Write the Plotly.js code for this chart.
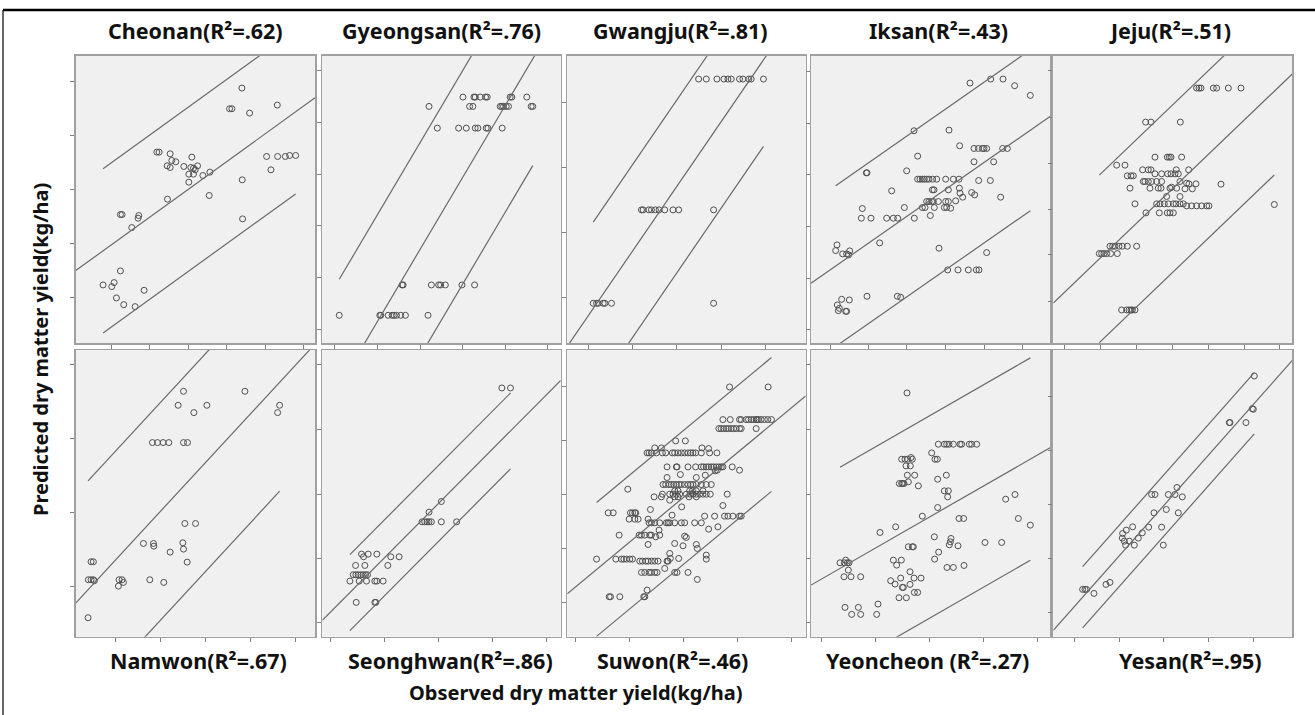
<!DOCTYPE html>
<html><head><meta charset="utf-8">
<script src="https://cdn.plot.ly/plotly-3.0.1.min.js"></script>
<style>html,body{margin:0;padding:0;background:#fff;}#chart{width:1315px;height:715px;}</style>
</head><body><div id="chart"></div>
<script>
// ---- site titles ----
const sites = ["Cheonan", "Gyeongsan", "Gwangju", "Iksan", "Jeju", "Namwon", "Seonghwan", "Suwon", "Yeoncheon ", "Yesan"];
const r2Labels = [".62", ".76", ".81", ".43", ".51", ".67", ".86", ".46", ".27", ".95"];

// ---- observed (x) / predicted (y) values, arbitrary yield units ----
const cheonanObs = [498,461,468,521,604,243,250,283,288,300,348,274,283,324,345,353,358,365,339,353,381,402,339,275,400,499,500,572,605,628,641,659,585,134,139,189,187,168,134,82,108,115,122,144,178,205];
const cheonanPred = [764,702,702,689,713,572,572,567,547,543,557,531,526,529,526,524,519,531,506,506,502,512,482,431,442,489,372,559,559,559,562,562,519,385,385,382,374,346,216,174,169,181,135,115,109,158];

const gyeongsanObs = [423,456,460,475,491,496,565,570,615, 321,443,453,535,540,545,553,560,628,633, 346,410,433,460,468,493,498,541, 240,243,328,350,356,370,420,458, 51,173,176,198,210,216,223,236,250,318];
const gyeongsanPred = [737,737,737,737,737,737,737,737,737, 709,709,709,709,709,709,709,709,709,709, 644,644,644,644,644,644,644,644, 174,174,174,174,174,174,174,174, 83,83,83,83,83,83,83,83,83,83];

const gwangjuObs = [395,418,450,471,483,493,518,528,546,553,590, 223,228,245,253,265,276,293,318,335,440, 78,88,93,108,113,133,440];
const gwangjuPred = [791,791,791,791,791,791,791,791,791,791,791, 399,399,399,399,399,399,399,399,399,399, 119,119,119,119,119,119,119];

const iksanObs = [477,539,576,611,658, 309,414, 446,489,502,514,519,527,575,589, 320, 489,548, 166,168, 287,
  320,327,334,340,347,354,365,377,404,427,444, 503,538,
  242,364,369,412,445,447,482,491,569,455,
  347,354,362,367,382,404,412,434,
  154,280,334,342,370,400,407,419,
  151,180,227,247,260,310,358,
  78,74,95,107,113,116, 206, 384,527, 410,441,472,496,504,
  92,115,168,259,269, 79,85,82,104,107];
const iksanPred = [779,791,791,771,742, 636,638, 591,583,583,583,583,583,583,583, 560, 543,543, 510,510, 516,
  491,491,491,491,491,491,491,491,491,491,491, 487,487,
  456,459,459,459,464,449,451,444,437,437,
  424,424,424,424,424,424,424,426,
  403,406,406,406,406,406,406,404,
  374,374,374,374,374,374,382,
  294,277,267,267,264,276, 300, 284,271, 219,219,219,219,219,
  131,129,140,140,137, 114,104,97,95,95];

const jejuObs = [430,437,443,480,490,525,563, 277,293,381, 305,342,348,353,385, 190,215, 268,285,293,369,406,
  305,325,343,353,365,375, 222,233,240, 270,275,285,295,310,325,380, 400,407,428,503,
  230,290,315,323,350,370,355,395,417, 340,380,
  245,310,320,333,345,360,368,380,390, 400,415,430,445,460,467, 663,
  278,318,342,350,360, 170,178,185,197,207,222,250, 138,145,152,160,172,192, 205,220,227,233,237,245];
const jejuPred = [764,764,764,764,764,764,764, 662,662,662, 557,557,557,557,557, 533,533, 519,519,519,519,519,
  507,507,507,507,507,507, 501,501,501, 484,484,484,484,484,484,484, 479,477,477,476,
  464,464,464,464,464,464,467,462,462, 439,439,
  417,417,417,417,417,417,417,417,417, 411,411,411,411,411,411, 415,
  390,390,390,390,390, 290,290,290,290,290,290,290, 268,268,268,268,268,268, 99,99,99,99,99,99];

const namwonObs = [323,507, 307,393,611, 354,605, 230,245,262,279,323,335, 327,359, 203,233,234,321,323, 283,334, 46,53, 38,46,53,56, 130,139,143,128, 222,264, 37];
const namwonPred = [737,737, 695,695,695, 673,673, 583,583,583,583,583,583, 340,340, 280,280,272,282,263, 254,224, 225,225, 171,171,171,168, 171,171,163,152, 171,163, 57];

const seonghwanObs = [540,566, 358,321, 300,308,315,321,328,358,404, 118,138,164,124,206,231, 100,128,197, 93,101,108,116,123,130,136, 83,111,133,158,164,183, 102,158,161];
const seonghwanPred = [747,747, 406,374, 345,345,345,345,345,345,345, 248,248,248,240,240,240, 214,214,214, 186,186,186,186,186,186,186, 167,167,167,167,167,167, 103,103,103];

const suwonObs = [488,604,
  468,490,518,523,538,545,553,561,568,571,575,583,593,603,614,
  456,463,470,478,485,493,500,508,518,523,568,
  326,355, 263,283,405,425,
  240,246,253,268,286,296,316,323,333,343,353,363,371,378,386,403,428,450,
  300,328,330,363,386,403,410,418,425,433,440,448,456,463,468,496, 518,
  340,388,415,451,445, 300,
  288,296,306,313,320,328,336,343,353,363,371,378,388,403,418,433, 182,
  323,333,368,376,388,408,
  286,308,318,328,338,358,370,378,388,398,408,418,430,481,
  261,283,323,333,366,388, 308,344,468,
  123,138,190,196,203,206, 250,315,
  413,443,473,483,498,518,523,
  186,203,213,243,
  246,253,263,278,298,303,308,323,343,353,383,403,
  276,425,453,
  156,216,223,233,248,253,278, 266,353,358,
  243,323,348,388,391, 308,418,418,
  88,146,163,170,178,188,196,
  218,226,236,243,253,263,273,300,303, 310,335,293,
  223,233,246,253,263,270,323,330,363, 391, 240,
  126,130,158,230,233];
const suwonPred = [750,750,
  652,652,652,652,652,652,652,652,652,652,652,652,652,652,652,
  625,625,625,625,625,625,625,625,625,625,625,
  588,588, 567,567,567,565,
  552,552,552,552,552,552,552,552,552,552,552,552,552,552,552,552,552,552,
  510,510,510,510,510,510,510,510,510,510,510,510,510,510,510,510, 500,
  487,478,485,500,498, 478,
  457,457,457,457,457,457,457,457,457,457,457,457,457,457,457,457, 443,
  438,438,438,438,438,438,
  428,428,428,428,428,428,428,428,428,428,428,428,428,428,
  420,420,420,420,420,420, 410,390,394,
  372,372,372,372,372,372, 382,365,
  362,362,362,362,362,362,362,
  353,353,353,353,
  342,342,342,342,342,342,342,342,342,342,342,342,
  320,323,330,
  305,305,305,305,305,305,305, 300,302,298,
  277,280,273,277,265, 250,245,233,
  233,233,233,233,233,233,233,
  227,227,227,227,227,227,227,227,227, 235,235,205,
  193,193,193,193,193,193,193,193,193, 172, 140,
  120,120,120,120,120];

const yeoncheonObs = [288, 382,400,407,414,427,447,452,475,482,497, 362,372,379, 272,282,290,300,304, 285,298, 289,311,380,406,
  265,272,275,279,292,322, 400,412,410, 584,612,622,658, 334,380, 444,458, 207,254, 292,304,307,
  370,420,418,415,441,522,572, 383,371, 87,100,104,109,114,112, 247,271,257, 408,427,459, 99,120,149,
  297,309,330, 239,252,269,297,274,277, 310,320, 264,286, 102,142,201, 122,149,197];
const yeoncheonPred = [732, 578,578,578,578,578,578,578,578,578,578, 552,533,533, 533,533,533,538,533, 513,513, 485,485,473,485,
  460,460,460,460,465,453, 438,438,420, 413,427,355,335, 362,388, 355,355, 313,330, 270,270,270,
  300,295,285,276,273,283,283, 254,233, 222,222,230,222,222,200, 230,230,215, 208,208,214, 180,180,180,
  195,176,176, 168,158,176,157,148,148, 133,133, 117,117, 88,88,98, 67,67,67];

const yesanObs = [603, 597,600, 528,530,578, 371, 295,305,345,365,387, 302,339,375, 238,286,325, 219,267,255, 208,207,213,228,217,243, 330, 88,95,100,122, 158,170];
const yesanPred = [783, 685,683, 643,643,643, 448, 427,427,427,427,420, 372,382,372, 330,329,329, 320,312,296, 310,296,287,287,275,275, 275, 142,142,142,130, 157,163];

// ---- fitted line (predicted = intercept + slope * observed) and 95% individual prediction half-width ----
const fitIntercept = [217, -215, -10, 179, 120, 101, 49, 129, 155, 19];
const fitSlope = [0.722, 1.685, 1.455, 0.697, 0.957, 1.085, 1.005, 0.828, 0.575, 1.131];
const piHalf = [246, 320, 259, 241, 251, 327, 114, 201, 304, 92];

// ---- tick values ----
const xTicks = [
  [106,221,338,453,568,683], [36,166,296,423,551,678], [63,196,328,463,595], [57,172,287,402,519,634], [35,143,250,358,465,573,680],
  [118,253,388,523,658], [26,188,350,511,673], [26,188,350,513,675], [32,194,354,517,679], [65,198,332,465,600]
];
const yTicks = [
  [784,622,461,299,137], [817,661,506,351,196,41], [721,526,331,137], [814,659,504,349,194,39], [817,677,539,401,264,124],
  [818,595,373,152], [818,623,428,235,42], [750,590,428,265,103], [818,622,428,235,42], [720,560,398,235,72]
];

const obsAll = [cheonanObs, gyeongsanObs, gwangjuObs, iksanObs, jejuObs, namwonObs, seonghwanObs, suwonObs, yeoncheonObs, yesanObs];
const predAll = [cheonanPred, gyeongsanPred, gwangjuPred, iksanPred, jejuPred, namwonPred, seonghwanPred, suwonPred, yeoncheonPred, yesanPred];

// ---- layout geometry (pixels) ----
const W = 1315, H = 715;
const colPx = [[75.7,315],[322.3,560.7],[567.3,805.7],[811,1050],[1053.3,1292.3]];
const rowPx = [[55.7,343],[350,636.7]];
const labelCx = [196, 441, 680, 938, 1170, 198, 450, 672, 928, 1190];
const X_MAX = 717, Y_MAX = 861;

const traces = [];
const layout = {
  width: W, height: H,
  margin: {l:0, r:0, t:0, b:0},
  paper_bgcolor: '#ffffff',
  plot_bgcolor: '#f0f0f0',
  showlegend: false,
  annotations: [],
  shapes: [
    {type:'line', xref:'paper', yref:'paper', x0:3/W, x1:1, y0:1-10/H, y1:1-10/H, line:{color:'#000', width:2.5}},
    {type:'line', xref:'paper', yref:'paper', x0:3/W, x1:3/W, y0:0, y1:1-10/H, line:{color:'#000', width:1.2}}
  ]
};

const titleFont = {family:'Noto Sans, DejaVu Sans, sans-serif', size:21.5, color:'#111', weight:'bold'};
const lineStyle = {color:'#6a6a6a', width:1.2};
for (let i = 0; i < 10; i++) {
  const s = i === 0 ? '' : String(i + 1);
  const col = i % 5, row = Math.floor(i / 5);
  const xs = obsAll[i], ys = predAll[i];
  const a = fitIntercept[i], b = fitSlope[i], h = piHalf[i];
  const xmin = Math.min(...xs), xmax = Math.max(...xs);
  traces.push({type:'scatter', mode:'markers', x: xs, y: ys, xaxis:'x'+s, yaxis:'y'+s,
    marker:{symbol:'circle-open', size:6, color:'#505050', line:{width:1}}, hoverinfo:'skip'});
  traces.push({type:'scatter', mode:'lines', x:[0, X_MAX], y:[a, a + b*X_MAX], xaxis:'x'+s, yaxis:'y'+s, line:lineStyle, hoverinfo:'skip'});
  traces.push({type:'scatter', mode:'lines', x:[xmin, xmax], y:[a + h + b*xmin, a + h + b*xmax], xaxis:'x'+s, yaxis:'y'+s, line:lineStyle, hoverinfo:'skip'});
  traces.push({type:'scatter', mode:'lines', x:[xmin, xmax], y:[a - h + b*xmin, a - h + b*xmax], xaxis:'x'+s, yaxis:'y'+s, line:lineStyle, hoverinfo:'skip'});

  const axCommon = {showgrid:false, zeroline:false, showticklabels:false, showline:true, mirror:true,
    linecolor:'#a0a0a0', linewidth:1.5, ticks:'outside', ticklen:4, tickcolor:'#808080', tickwidth:1, fixedrange:true};
  layout['xaxis'+s] = Object.assign({}, axCommon, {
    domain:[colPx[col][0]/W, colPx[col][1]/W], range:[0, X_MAX], anchor:'y'+s,
    tickmode:'array', tickvals: xTicks[i]});
  layout['yaxis'+s] = Object.assign({}, axCommon, {
    domain:[1 - rowPx[row][1]/H, 1 - rowPx[row][0]/H], range:[0, Y_MAX], anchor:'x'+s,
    tickmode:'array', tickvals: yTicks[i]});

  const ty = row === 0 ? 1 - 31/H : 1 - 660/H;
  layout.annotations.push({xref:'paper', yref:'paper', x: labelCx[i]/W, y: ty, xanchor:'center', yanchor:'middle', showarrow:false,
    text: sites[i] + '(R²=' + r2Labels[i] + ')', font: titleFont});
}
layout.annotations.push({xref:'paper', yref:'paper', x: 576/W, y: 1-692/H, xanchor:'center', yanchor:'middle', showarrow:false,
  text:'Observed dry matter yield(kg/ha)', font:{family:'Noto Sans, DejaVu Sans, sans-serif', size:20, color:'#111', weight:'bold'}});
layout.annotations.push({xref:'paper', yref:'paper', x: 40/W, y: 1-350/H, xanchor:'center', yanchor:'middle', showarrow:false, textangle:-90,
  text:'Predicted dry matter yield(kg/ha)', font:{family:'Noto Sans, DejaVu Sans, sans-serif', size:20, color:'#111', weight:'bold'}});

Plotly.newPlot('chart', traces, layout, {displayModeBar:false, staticPlot:true});
</script>
</body></html>
